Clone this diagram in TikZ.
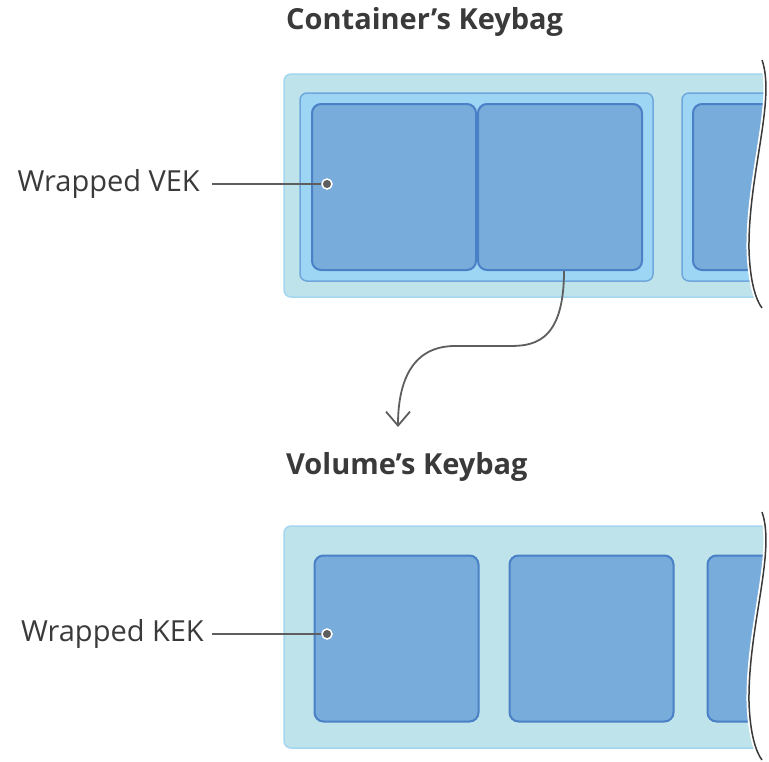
\documentclass[tikz,border=0pt]{standalone}
\usepackage{fontspec}
\setmainfont{Open Sans}
\usetikzlibrary{arrows.meta}

\definecolor{bagfill}{HTML}{BEE3EA}
\definecolor{bagline}{HTML}{A3D6F0}
\definecolor{grpfill}{HTML}{9DD6F5}
\definecolor{grpline}{HTML}{6FA6DC}
\definecolor{keyfill}{HTML}{78ACDB}
\definecolor{keyline}{HTML}{4A80C6}
\definecolor{inkgray}{HTML}{3A3A3A}
\definecolor{wiregray}{HTML}{5E5E5E}

\tikzset{
  bag/.style={draw=bagline, fill=bagfill, line width=1.5pt, rounded corners=7pt},
  grp/.style={draw=grpline, fill=grpfill, line width=1.5pt, rounded corners=7pt},
  keybox/.style={draw=keyline, fill=keyfill, line width=2pt, rounded corners=9pt,
    minimum width=164pt, minimum height=166pt, inner sep=0pt},
  title/.style={font=\bfseries\fontsize{29}{34}\selectfont, text=inkgray, inner sep=0pt},
  callout/.style={font=\fontsize{29}{34}\selectfont, text=inkgray, inner sep=0pt},
  wire/.style={draw=wiregray, line width=1.8pt},
}

% torn right edge of a keybag
\newcommand{\tornedge}[1]{(762,60+#1) .. controls (776,100+#1) and (748,175+#1) .. (749,250+#1)
  .. controls (750,282+#1) and (756,300+#1) .. (762,308+#1)}

\begin{document}
\begin{tikzpicture}[x=1pt, y=-1pt]
\useasboundingbox (0,0) rectangle (769,761);

\node[title, anchor=west] (ctitle) at (286,22) {Container’s Keybag};
\node[title, anchor=west] (vtitle) at (286,467) {Volume’s Keybag};

% container keybag
\begin{scope}
  \clip (0,40) -- \tornedge{0} -- (762,330) -- (0,330) -- cycle;
  \draw[bag] (284,74) rectangle (820,297);
  \draw[grp] (300,93) rectangle (653,281);
  \draw[grp] (682,93) rectangle (1035,281);
  \node[keybox] (vek0) at (394,187) {};
  \node[keybox] (vek1) at (560,187) {};
  \node[keybox] (vek2) at (775,187) {};
\end{scope}
\draw[white, line width=5pt] \tornedge{0};
\draw[inkgray, line width=1.5pt] \tornedge{0};

% volume keybag
\begin{scope}
  \clip (0,492) -- \tornedge{452} -- (762,782) -- (0,782) -- cycle;
  \draw[bag] (284,526) rectangle (820,748);
  \node[keybox] (kek0) at (396.5,638.5) {};
  \node[keybox] (kek1) at (591.5,638.5) {};
  \node[keybox] (kek2) at (789.5,638.5) {};
\end{scope}
\draw[white, line width=5pt] \tornedge{452};
\draw[inkgray, line width=1.5pt] \tornedge{452};

% callouts
\node[callout, anchor=east] (veklabel) at (200,184) {Wrapped VEK};
\node[callout, anchor=east] (keklabel) at (204,634) {Wrapped KEK};
\coordinate (vekdot) at (327,184);
\coordinate (kekdot) at (327,634);
\draw[wire] ([xshift=12pt]veklabel.east) -- (vekdot);
\draw[wire] ([xshift=8pt]keklabel.east) -- (kekdot);
\foreach \d in {vekdot, kekdot}
  \fill[wiregray, draw=white, line width=1.5pt] (\d) circle (5pt);

% vek moves to the volume keybag
\coordinate (vekdrop) at (398,427);
\draw[wire, -{Straight Barb[length=14pt, width=24pt, line width=1.8pt]}]
  ([xshift=4pt]vek1.south) .. controls (564,346) and (530,346) .. (507,346)
  -- (455,346) .. controls (410,346) and (398,385) .. (vekdrop);

\end{tikzpicture}
\end{document}
